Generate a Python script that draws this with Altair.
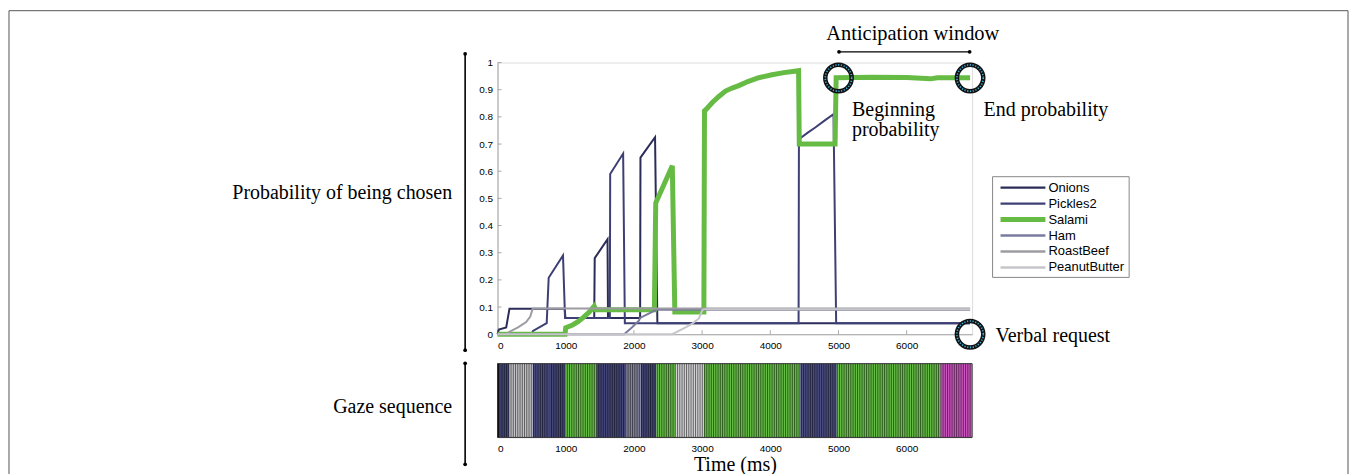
import altair as alt
import pandas as pd

# ---------------- data ----------------
items = ["Onions", "Pickles2", "Salami", "Ham", "RoastBeef", "PeanutButter"]
item_colors = ["#2b2c58", "#3e4075", "#66bb44", "#7a7b9c", "#9c9ca2", "#c6c6ca"]
item_widths = [2.0, 2.0, 5.0, 2.0, 2.0, 2.0]
legend_widths = [2.4, 2.4, 5.0, 2.4, 2.4, 2.4]

onions_t = [0, 19, 127, 175, 985, 995, 1418, 1425, 1613, 1620, 2091, 2096, 2310, 2344, 6930]
onions_p = [0, 0.017, 0.025, 0.094, 0.094, 0.06, 0.06, 0.28, 0.35, 0.06, 0.06, 0.65, 0.725, 0.04, 0.04]

pickles_t = [0, 500, 520, 721, 750, 960, 990, 1647, 1652, 1842, 1867, 4415, 4420, 4550, 4659, 4800, 4927, 4966, 6930]
pickles_p = [0, 0, 0.012, 0.041, 0.208, 0.29, 0.06, 0.06, 0.59, 0.665, 0.04, 0.04, 0.718, 0.742, 0.761, 0.787, 0.81, 0.04, 0.04]

salami_t = [0, 990, 1000, 1100, 1174, 1260, 1345, 1418, 1440, 2300, 2320, 2563, 2600, 3026, 3035, 3075, 3150,
            3250, 3343, 3440, 3538, 3680, 3830, 4025, 4200, 4415, 4425, 4950, 4966, 5500, 6000, 6350, 6450, 6930]
salami_p = [0, 0, 0.024, 0.034, 0.045, 0.062, 0.082, 0.103, 0.09, 0.09, 0.483, 0.62, 0.082, 0.082, 0.822, 0.832, 0.853,
            0.876, 0.895, 0.906, 0.915, 0.931, 0.944, 0.955, 0.963, 0.97, 0.70, 0.70, 0.944, 0.946, 0.945, 0.94, 0.944, 0.944]

ham_t = [0, 1857, 1978, 2076, 2090, 2330, 6930]
ham_p = [0, 0, 0.027, 0.051, 0.06, 0.09, 0.09]

roast_t = [0, 120, 180, 300, 420, 480, 516, 6930]
roast_p = [0, 0, 0.01, 0.025, 0.045, 0.065, 0.095, 0.095]

peanut_t = [0, 2563, 2758, 2856, 2953, 3001, 3026, 6930]
peanut_p = [0, 0, 0.025, 0.039, 0.058, 0.088, 0.092, 0.092]

series_t = [onions_t, pickles_t, salami_t, ham_t, roast_t, peanut_t]
series_p = [onions_p, pickles_p, salami_p, ham_p, roast_p, peanut_p]

gaze_start = [0, 30, 175, 516, 760, 994, 1452, 1881, 2100, 2330, 2612, 3026, 4440, 4975, 6496]
gaze_end = [30, 175, 516, 760, 994, 1452, 1881, 2100, 2330, 2612, 3026, 4440, 4975, 6496, 6955]
gaze_item = ["None", "Onions", "RoastBeef", "Pickles2", "Onions", "Salami", "Onions", "Ham",
             "Onions", "Salami", "PeanutButter", "Salami", "Pickles2", "Salami", "Other"]
gaze_names = ["None", "Onions", "Pickles2", "Salami", "Ham", "RoastBeef", "PeanutButter", "Other"]
gaze_colors = ["#111111", "#45477a", "#4c4e84", "#66c046", "#86869e", "#c4c4c8", "#d2d2d6", "#cc56c0"]

x_ticks = [0, 1000, 2000, 3000, 4000, 5000, 6000]
y_ticks = [0, 0.1, 0.2, 0.3, 0.4, 0.5, 0.6, 0.7, 0.8, 0.9, 1]

circle_t = [5000, 6930, 6930]
circle_p = [0.943, 0.943, 0.0]

T_MAX = 6960

# ---------------- layout (page pixels) ----------------
OX, OY_TOP = 498.5, 61.5
W = 476
H_TOP = 272.5
GAP = 29
H_BOT = 74
OY_BOT = OY_TOP + H_TOP + GAP


def rx(x):
    return x - OX


def ry(y):
    return y - OY_TOP


def rb(y):
    return y - OY_BOT


one = pd.DataFrame({"k": [0]})
SERIF = "Liberation Serif"
SANS = "Liberation Sans"

xs = alt.Scale(domain=[0, T_MAX], nice=False, zero=False)
ys = alt.Scale(domain=[0, 1], nice=False)

x_axis = alt.Axis(values=x_ticks, format="d", ticks=False, grid=False, title=None,
                  domainColor="#a8a8a8", labelPadding=6)
y_axis = alt.Axis(values=y_ticks, format="~g", ticks=False, grid=False, title=None,
                  domainColor="#a8a8a8", labelPadding=5)


def text(chart_rel_y, s, x, y, align="left", size=20, font=SERIF, baseline="alphabetic", lh=None):
    kw = dict(text=s, align=align, baseline=baseline, font=font, fontSize=size, color="black")
    if lh is not None:
        kw["lineHeight"] = lh
    return alt.Chart(one).mark_text(**kw).encode(x=alt.value(rx(x)), y=alt.value(chart_rel_y(y)))


def hrule(chart_rel_y, x1, x2, y, color="black", width=1.5):
    return alt.Chart(one).mark_rule(color=color, strokeWidth=width).encode(
        x=alt.value(rx(x1)), x2=alt.value(rx(x2)), y=alt.value(chart_rel_y(y)))


def vrule(chart_rel_y, x, y1, y2, color="black", width=1.5):
    return alt.Chart(one).mark_rule(color=color, strokeWidth=width).encode(
        x=alt.value(rx(x)), y=alt.value(chart_rel_y(y1)), y2=alt.value(chart_rel_y(y2)))


def dot(chart_rel_y, x, y):
    return alt.Chart(one).mark_point(shape="circle", filled=True, color="black", size=14, opacity=1).encode(
        x=alt.value(rx(x)), y=alt.value(chart_rel_y(y)))


# ---------------- top panel ----------------
layers = []

# outer frame of the figure
layers.append(alt.Chart(one).mark_rect(fillOpacity=0, stroke="#555555", strokeWidth=1).encode(
    x=alt.value(rx(8.5)), x2=alt.value(rx(1351.5)), y=alt.value(ry(9.5)), y2=alt.value(ry(478))))

# inward ticks
xt = pd.DataFrame({"v": x_ticks})
yt = pd.DataFrame({"v": y_ticks})
layers.append(alt.Chart(xt).mark_rule(color="#a8a8a8", strokeWidth=1).encode(
    x=alt.X("v:Q", scale=xs, axis=x_axis), y=alt.value(H_TOP), y2=alt.value(H_TOP - 4)))
layers.append(alt.Chart(yt).mark_rule(color="#a8a8a8", strokeWidth=1).encode(
    y=alt.Y("v:Q", scale=ys, axis=y_axis), x=alt.value(0), x2=alt.value(4)))

for name, col, w, ts, ps in zip(items, item_colors, item_widths, series_t, series_p):
    df = pd.DataFrame({"t": ts, "p": ps, "i": list(range(len(ts)))})
    layers.append(alt.Chart(df).mark_line(color=col, strokeWidth=w, strokeJoin="miter", strokeCap="butt").encode(
        x=alt.X("t:Q", scale=xs, axis=x_axis),
        y=alt.Y("p:Q", scale=ys, axis=y_axis),
        order="i:Q"))

# annotation circles
cdf = pd.DataFrame({"t": circle_t, "p": circle_p})
layers.append(alt.Chart(cdf).mark_point(shape="circle", filled=False, color="#111111", size=700,
                                        strokeWidth=4.5, opacity=1).encode(
    x=alt.X("t:Q", scale=xs, axis=x_axis), y=alt.Y("p:Q", scale=ys, axis=y_axis)))
layers.append(alt.Chart(cdf).mark_point(shape="circle", filled=False, color="#3fb6e0", size=700,
                                        strokeWidth=1.6, strokeDash=[1.2, 1.6], opacity=1).encode(
    x=alt.X("t:Q", scale=xs, axis=x_axis), y=alt.Y("p:Q", scale=ys, axis=y_axis)))

# texts
layers.append(text(ry, "Probability of being chosen", 453, 198.3, align="right"))
layers.append(text(ry, "Anticipation window", 915, 39.3, align="center", size=20.5))
layers.append(text(ry, ["Beginning", "probability"], 854, 115, lh=20))
layers.append(text(ry, "End probability", 986, 115))
layers.append(text(ry, "Verbal request", 998, 341.7))

# anticipation bracket
layers.append(hrule(ry, 841, 972, 50.7, width=1.3))
layers.append(dot(ry, 841, 50.7))
layers.append(dot(ry, 972, 50.7))

# left bracket (probability)
layers.append(vrule(ry, 466, 52.7, 350, width=1.6))
layers.append(dot(ry, 466, 52.7))
layers.append(dot(ry, 466, 350))

# legend
layers.append(alt.Chart(one).mark_rect(fill="white", stroke="#888888", strokeWidth=1).encode(
    x=alt.value(rx(995)), x2=alt.value(rx(1132)), y=alt.value(ry(176)), y2=alt.value(ry(277))))
for i, (name, col, w) in enumerate(zip(items, item_colors, legend_widths)):
    yy = 187 + 16 * i
    layers.append(hrule(ry, 1003, 1048, yy, color=col, width=w))
    layers.append(text(ry, name, 1051, yy, size=13, font=SANS, baseline="middle"))

top = alt.layer(*layers).properties(width=W, height=H_TOP)

# ---------------- bottom panel (gaze sequence) ----------------
gdf = pd.DataFrame({"start": gaze_start, "end": gaze_end, "item": gaze_item})
bx_axis = alt.Axis(values=x_ticks, format="d", ticks=False, domain=False, grid=False,
                   title="Time (ms)", labelPadding=6, titlePadding=1,
                   titleFont=SERIF, titleFontSize=20, titleFontWeight="normal", titleColor="black")

blayers = []
blayers.append(alt.Chart(gdf).mark_rect().encode(
    x=alt.X("start:Q", scale=xs, axis=bx_axis), x2="end:Q",
    y=alt.value(0), y2=alt.value(H_BOT),
    color=alt.Color("item:N", scale=alt.Scale(domain=gaze_names, range=gaze_colors), legend=None)))
blayers.append(alt.Chart(alt.sequence(0, 6955, 33, as_="t")).mark_rule(
    color="#000000", strokeWidth=0.9, opacity=0.6).encode(
    x=alt.X("t:Q", scale=xs, axis=bx_axis), y=alt.value(0), y2=alt.value(H_BOT)))
blayers.append(alt.Chart(one).mark_rect(fillOpacity=0, stroke="#333333", strokeWidth=1).encode(
    x=alt.value(0), x2=alt.value(W), y=alt.value(0), y2=alt.value(H_BOT)))
blayers.append(text(rb, "Gaze sequence", 453, 413, align="right"))
blayers.append(vrule(rb, 466, 362.7, 464, width=1.6))
blayers.append(dot(rb, 466, 362.7))
blayers.append(dot(rb, 466, 464))

bottom = alt.layer(*blayers).properties(width=W, height=H_BOT)

chart = alt.vconcat(top, bottom, spacing=GAP, bounds="flush").properties(
    padding={"left": 0, "top": 1, "right": 0, "bottom": 0}
).configure_view(strokeWidth=0, stroke="transparent").configure_axis(
    labelFont=SANS, labelFontSize=9.5, labelColor="#444444"
).configure(background="white")

chart.save("out.html", embed_options={"renderer": "svg", "actions": False})
